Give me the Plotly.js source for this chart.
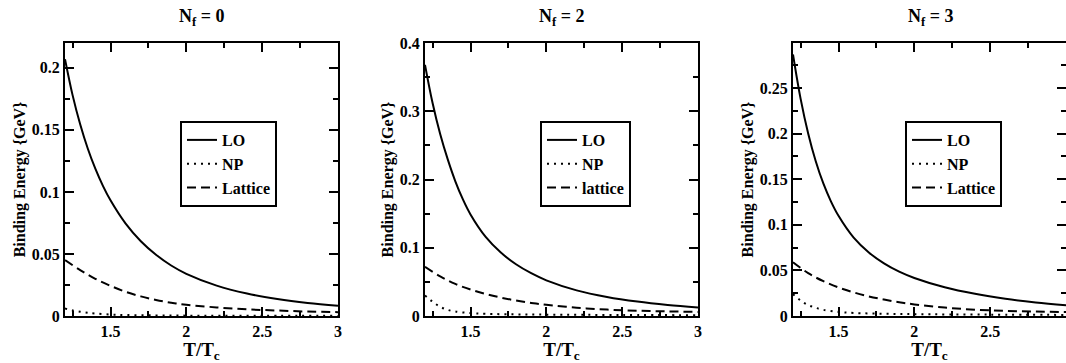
<!DOCTYPE html>
<html>
<head>
<meta charset="utf-8">
<script src="https://cdn.plot.ly/plotly-3.0.1.min.js"></script>
<style>
  html, body { margin: 0; padding: 0; background: #fff; }
  #chart { width: 1066px; height: 363px; }
</style>
</head>
<body>
<div id="chart"></div>
<script>
// T/Tc sample points
var tLO = [1.2, 1.25, 1.3, 1.35, 1.4, 1.45, 1.5, 1.6, 1.7, 1.8, 1.9, 2.0, 2.2, 2.4, 2.6, 2.8, 3.0];
var tLat = [1.2, 1.3, 1.4, 1.5, 1.6, 1.7, 1.8, 1.9, 2.0, 2.2, 2.4, 2.6, 2.8, 3.0];
var tNP = [1.2, 1.25, 1.3, 1.35, 1.4, 1.5, 1.6, 1.8, 2.0, 2.5, 3.0];

// Nf = 0
var lo0 = [0.207, 0.178, 0.1545, 0.135, 0.1187, 0.1049, 0.0932, 0.0744, 0.0602, 0.0493, 0.0407, 0.034, 0.0245, 0.0181, 0.0137, 0.0105, 0.0082];
var np0 = [0.006, 0.0045, 0.0034, 0.0026, 0.002, 0.0012, 0.0008, 0.0005, 0.0003, 0.0002, 0.0001];
var lat0 = [0.045, 0.037, 0.030, 0.0243, 0.0195, 0.0158, 0.0129, 0.0107, 0.0091, 0.0069, 0.0054, 0.0044, 0.0036, 0.0031];

// Nf = 2
var lo2 = [0.368, 0.312, 0.2665, 0.2294, 0.1974, 0.1708, 0.1488, 0.1159, 0.093, 0.0758, 0.0627, 0.0523, 0.0376, 0.0279, 0.0211, 0.0162, 0.0126];
var np2 = [0.03, 0.021, 0.0135, 0.009, 0.0065, 0.0043, 0.0032, 0.0024, 0.002, 0.0015, 0.0012];
var lat2 = [0.072, 0.058, 0.047, 0.0388, 0.0322, 0.027, 0.0227, 0.0192, 0.0164, 0.0122, 0.0094, 0.0077, 0.0067, 0.006];

// Nf = 3
var lo3 = [0.287, 0.2385, 0.2003, 0.1698, 0.1454, 0.1258, 0.1099, 0.086, 0.0697, 0.0577, 0.0486, 0.0417, 0.0315, 0.0243, 0.0189, 0.0149, 0.0118];
var np3 = [0.024, 0.017, 0.012, 0.009, 0.0068, 0.0045, 0.0033, 0.0025, 0.002, 0.0015, 0.0012];
var lat3 = [0.059, 0.047, 0.0382, 0.0313, 0.0259, 0.0215, 0.018, 0.0151, 0.0127, 0.0092, 0.0069, 0.0056, 0.0048, 0.0043];

// tick labels
var xTicks = [1.5, 2, 2.5, 3];
var xTickText = ['1.5', '2', '2.5', '3'];
var yTicks0 = [0, 0.05, 0.1, 0.15, 0.2];
var yTickText0 = ['0', '0.05', '0.1', '0.15', '0.2'];
var yTicks2 = [0, 0.1, 0.2, 0.3, 0.4];
var yTickText2 = ['0', '0.1', '0.2', '0.3', '0.4'];
var yTicks3 = [0, 0.05, 0.1, 0.15, 0.2, 0.25];
var yTickText3 = ['0', '0.05', '0.1', '0.15', '0.2', '0.25'];

var panelTitles = ['N<sub>f</sub> = 0', 'N<sub>f</sub> = 2', 'N<sub>f</sub> = 3'];
var latticeNames = ['Lattice', 'lattice', 'Lattice'];

var serif = 'Liberation Serif';
var bold = function (s) { return '<b>' + s + '</b>'; };

function mk(x, y, name, dash, i) {
  var sfx = i === 0 ? '' : String(i + 1);
  return {
    x: x, y: y, name: bold(name), type: 'scatter', mode: 'lines',
    xaxis: 'x' + sfx, yaxis: 'y' + sfx,
    legend: 'legend' + sfx,
    line: {color: 'black', width: 2, dash: dash, shape: 'spline', smoothing: 1},
    hoverinfo: 'none'
  };
}

var los = [lo0, lo2, lo3], nps = [np0, np2, np3], lats = [lat0, lat2, lat3];
var data = [];
for (var i = 0; i < 3; i++) {
  data.push(mk(tLO, los[i], 'LO', 'solid', i));
  data.push(mk(tNP, nps[i], 'NP', '2px,5px', i));
  data.push(mk(tLat, lats[i], latticeNames[i], '9px,5px', i));
}

var W = 1066, H = 363;
var xdom = [[65 / W, 338 / W], [425 / W, 698 / W], [793 / W, 1]];
var ydom = [(H - 316) / H, (H - 43) / H];
var yranges = [[0, 0.22], [0, 0.4], [0, 0.2995]];
var yminor = [0.025, 0.05, 0.025];
var yTv = [yTicks0, yTicks2, yTicks3];
var yTt = [yTickText0, yTickText2, yTickText3];
var legX = [180, 540, 905];
var titleX = [201, 561, 930];

var tickFont = {family: serif, size: 16, color: 'black'};

var layout = {
  width: W, height: H,
  margin: {l: 0, r: 0, t: 0, b: 0},
  paper_bgcolor: 'white', plot_bgcolor: 'white',
  font: {family: serif, size: 16, color: 'black'},
  annotations: []
};

for (var i = 0; i < 3; i++) {
  var sfx = i === 0 ? '' : String(i + 1);
  layout['xaxis' + sfx] = {
    domain: xdom[i], anchor: 'y' + sfx, range: [1.2, 3],
    tickmode: 'array', tickvals: xTicks, ticktext: xTickText.map(bold),
    ticks: 'inside', ticklen: 9, tickwidth: 2, tickcolor: 'black',
    minor: {tickmode: 'linear', tick0: 0, dtick: 0.25, ticks: 'inside', ticklen: 5, tickwidth: 2, tickcolor: 'black'},
    showline: true, linewidth: 2, linecolor: 'black', mirror: 'allticks',
    showgrid: false, zeroline: false, tickfont: tickFont,
    title: {text: bold('T/T<sub>c</sub>'), font: {family: serif, size: 19, color: 'black'}, standoff: 0}
  };
  layout['yaxis' + sfx] = {
    domain: ydom, anchor: 'x' + sfx, range: yranges[i],
    tickmode: 'array', tickvals: yTv[i], ticktext: yTt[i].map(bold),
    ticks: 'inside', ticklen: 9, tickwidth: 2, tickcolor: 'black',
    minor: {tickmode: 'linear', tick0: 0, dtick: yminor[i], ticks: 'inside', ticklen: 5, tickwidth: 2, tickcolor: 'black'},
    showline: true, linewidth: 2, linecolor: 'black', mirror: 'allticks',
    showgrid: false, zeroline: false, tickfont: tickFont,
    title: {text: bold('Binding Energy {GeV}'), font: {family: serif, size: 16, color: 'black'}, standoff: 2}
  };
  layout['legend' + sfx] = {
    x: legX[i] / W, y: (H - 121) / H, xanchor: 'left', yanchor: 'top',
    xref: 'paper', yref: 'paper',
    bgcolor: 'white', bordercolor: 'black', borderwidth: 2,
    font: {family: serif, size: 16, color: 'black'},
    tracegroupgap: 0, itemwidth: 30
  };
  layout.annotations.push({
    text: bold(panelTitles[i]), showarrow: false,
    xref: 'paper', yref: 'paper', x: titleX[i] / W, y: (H - 17) / H,
    xanchor: 'center', yanchor: 'middle',
    font: {family: serif, size: 18, color: 'black'}
  });
}

Plotly.newPlot('chart', data, layout, {staticPlot: true});
</script>
</body>
</html>
